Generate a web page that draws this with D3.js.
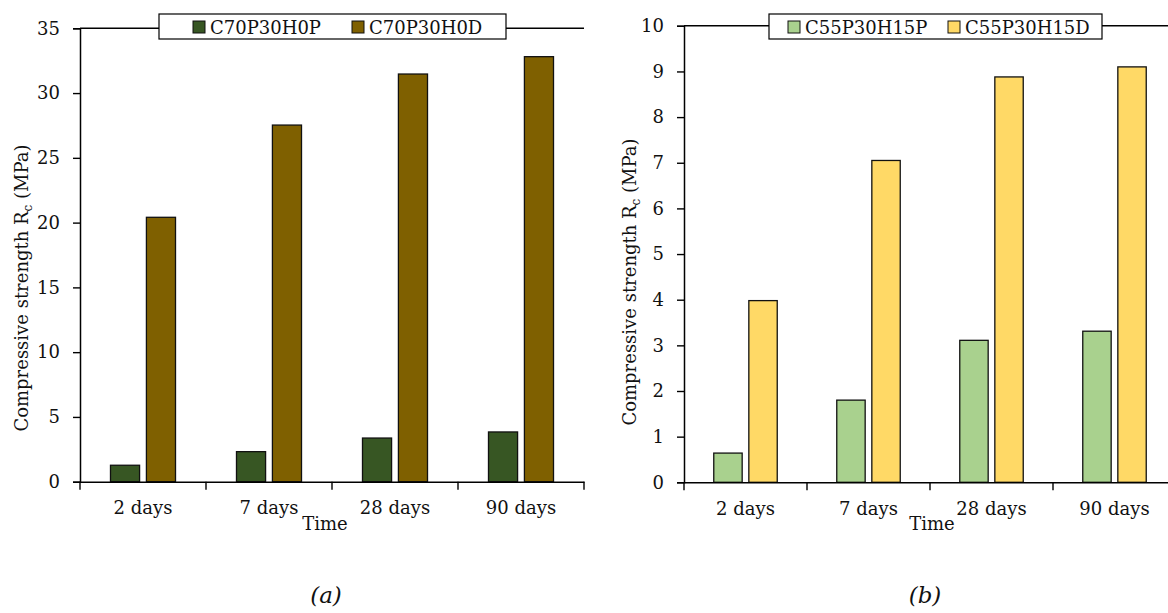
<!DOCTYPE html>
<html>
<head>
<meta charset="utf-8">
<script src="https://cdn.jsdelivr.net/npm/d3@7"></script>
<style>
  html, body { margin: 0; padding: 0; background: #fff; }
  svg { display: block; }
  text { font-family: "DejaVu Serif", serif; fill: #111; }
</style>
</head>
<body>
<svg id="chart" width="1168" height="613"></svg>
<script>
// ---- data ----
const categories = ["2 days", "7 days", "28 days", "90 days"];

const seriesA = ["C70P30H0P", "C70P30H0D"];
const valuesA_P = [1.27, 2.32, 3.37, 3.84];
const valuesA_D = [20.41, 27.53, 31.47, 32.81];
const yTicksA = [0, 5, 10, 15, 20, 25, 30, 35];

const seriesB = ["C55P30H15P", "C55P30H15D"];
const valuesB_P = [0.64, 1.80, 3.11, 3.31];
const valuesB_D = [3.98, 7.05, 8.88, 9.10];
const yTicksB = [0, 1, 2, 3, 4, 5, 6, 7, 8, 9, 10];

const colorsA = ["#375623", "#7F6000"];
const colorsB = ["#A9D18E", "#FFD966"];

const svg = d3.select("#chart");

function panel(cfg) {
  const g = svg.append("g");
  const x = d3.scaleBand().domain(categories).range([cfg.x0, cfg.x1]).padding(0);
  const y = d3.scaleLinear().domain([0, cfg.ymax]).range([cfg.yBottom, cfg.yTop]);
  const cw = x.bandwidth();
  const inner = d3.scaleBand().domain([0, 1])
    .range([cw * 0.242, cw * 0.758]).paddingInner(0.19).paddingOuter(0);

  // bars
  const data = [];
  categories.forEach((c, i) => {
    cfg.values.forEach((arr, s) => data.push({ c, s, v: arr[i] }));
  });
  g.selectAll("rect.bar").data(data).enter().append("rect")
    .attr("class", "bar")
    .attr("x", d => x(d.c) + inner(d.s))
    .attr("width", inner.bandwidth())
    .attr("y", d => y(d.v))
    .attr("height", d => y(0) - y(d.v))
    .attr("fill", d => cfg.colors[d.s])
    .attr("stroke", "#111")
    .attr("stroke-width", 1.3);

  // top border line
  g.append("line")
    .attr("x1", cfg.x0).attr("x2", cfg.x1)
    .attr("y1", y(cfg.ymax)).attr("y2", y(cfg.ymax))
    .attr("stroke", "#000").attr("stroke-width", 1.4);

  // y axis
  const yAxis = d3.axisLeft(y).tickValues(cfg.yTicks).tickSize(7).tickPadding(13).tickFormat(d3.format("d"));
  const ya = g.append("g").attr("transform", `translate(${cfg.x0},0)`).call(yAxis);
  ya.select(".domain").attr("stroke", "#000").attr("stroke-width", 1.5);
  ya.selectAll(".tick line").attr("stroke", "#000").attr("stroke-width", 1.4);
  ya.selectAll(".tick text").attr("font-size", 18).attr("font-family", "DejaVu Serif").attr("fill", "#111");

  // x axis
  const xAxis = d3.axisBottom(x).tickSize(0).tickPadding(20);
  const xa = g.append("g").attr("transform", `translate(0,${y(0)})`).call(xAxis);
  xa.select(".domain").attr("stroke", "#000").attr("stroke-width", 1.5);
  xa.selectAll(".tick text").attr("font-size", 18).attr("font-family", "DejaVu Serif").attr("fill", "#111");
  // category boundary ticks
  const bounds = categories.map(c => x(c)).concat([cfg.x1]);
  xa.selectAll("line.bound").data(bounds).enter().append("line")
    .attr("class", "bound")
    .attr("x1", d => d).attr("x2", d => d)
    .attr("y1", 0).attr("y2", 8)
    .attr("stroke", "#000").attr("stroke-width", 1.4);

  // axis titles
  const yt = g.append("text")
    .attr("transform", `translate(${cfg.ytX},${cfg.ytY}) rotate(-90)`)
    .attr("text-anchor", "middle")
    .attr("font-size", 18);
  yt.append("tspan").text("Compressive strength R");
  yt.append("tspan").text("c").attr("font-size", 12).attr("dy", 4);
  yt.append("tspan").text(" (MPa)").attr("dy", -4);

  g.append("text")
    .attr("x", cfg.timeX).attr("y", 530)
    .attr("text-anchor", "middle").attr("font-size", 18)
    .text("Time");

  // caption
  g.append("text")
    .attr("x", cfg.capX).attr("y", 603)
    .attr("text-anchor", "middle").attr("font-size", 23)
    .attr("font-style", "italic")
    .text(cfg.caption);

  // legend
  const lg = g.append("g");
  lg.append("rect")
    .attr("x", cfg.leg.x).attr("y", 14)
    .attr("width", cfg.leg.w).attr("height", 25)
    .attr("fill", "#fff").attr("stroke", "#000").attr("stroke-width", 1.2);
  cfg.series.forEach((name, i) => {
    lg.append("rect")
      .attr("x", cfg.leg.sw[i]).attr("y", 21)
      .attr("width", 12).attr("height", 12)
      .attr("fill", cfg.colors[i]).attr("stroke", "#111").attr("stroke-width", 1);
    lg.append("text")
      .attr("x", cfg.leg.sw[i] + 17).attr("y", 34)
      .attr("font-size", 18)
      .text(name);
  });
}

panel({
  x0: 80, x1: 584, yTop: 28.3, yBottom: 481.7, ymax: 35,
  yTicks: yTicksA, values: [valuesA_P, valuesA_D], colors: colorsA,
  series: seriesA, ytX: 28, ytY: 288, timeX: 325, capX: 326, caption: "(a)",
  leg: { x: 159, w: 347, sw: [193, 352] }
});

panel({
  x0: 684, x1: 1176, yTop: 25.8, yBottom: 482.3, ymax: 10,
  yTicks: yTicksB, values: [valuesB_P, valuesB_D], colors: colorsB,
  series: seriesB, ytX: 636, ytY: 282, timeX: 932, capX: 925, caption: "(b)",
  leg: { x: 769, w: 333, sw: [788, 948] }
});
</script>
</body>
</html>
